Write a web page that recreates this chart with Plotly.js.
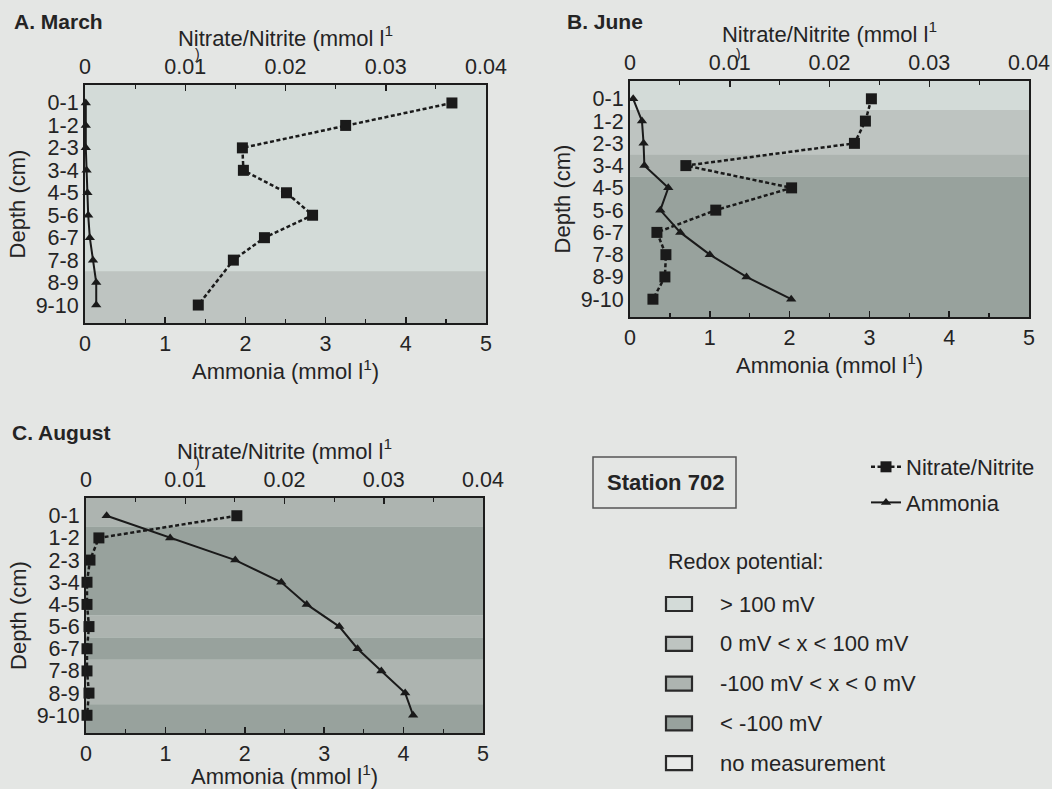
<!DOCTYPE html>
<html>
<head>
<meta charset="utf-8">
<script src="https://cdn.plot.ly/plotly-3.0.1.min.js"></script>
<style>html,body{margin:0;padding:0;background:#e4e6e4;}#chart{width:1052px;height:789px;}</style>
</head>
<body>
<div id="chart"></div>
<script>
// ---------- data ----------
const depths = ['0-1','1-2','2-3','3-4','4-5','5-6','6-7','7-8','8-9','9-10'];

const nitrateMarch  = [0.0366, 0.0260, 0.0157, 0.0158, 0.0201, 0.0227, 0.0179, 0.0148, null, 0.0113];
const ammoniaMarch  = [0.01, 0.01, 0.01, 0.02, 0.03, 0.04, 0.06, 0.10, 0.14, 0.14];

const nitrateJune   = [0.0242, 0.0236, 0.0225, 0.0056, 0.0162, 0.0086, 0.0027, 0.0036, 0.0035, 0.0023];
const ammoniaJune   = [0.04, 0.15, 0.17, 0.18, 0.48, 0.38, 0.63, 1.00, 1.46, 2.02];

const nitrateAugust = [0.0152, 0.0013, 0.0004, 0.0001, 0.0001, 0.0003, 0.0001, 0.0001, 0.0003, 0.0001];
const ammoniaAugust = [0.26, 1.06, 1.88, 2.46, 2.78, 3.19, 3.42, 3.72, 4.02, 4.12];

const redoxClasses = ['> 100 mV', '0 mV < x < 100 mV', '-100 mV < x < 0 mV', '< -100 mV', 'no measurement'];
const redoxMarch  = ['> 100 mV','> 100 mV','> 100 mV','> 100 mV','> 100 mV','> 100 mV','> 100 mV','> 100 mV','0 mV < x < 100 mV','0 mV < x < 100 mV'];
const redoxJune   = ['> 100 mV','0 mV < x < 100 mV','0 mV < x < 100 mV','-100 mV < x < 0 mV','< -100 mV','< -100 mV','< -100 mV','< -100 mV','< -100 mV','< -100 mV'];
const redoxAugust = ['-100 mV < x < 0 mV','< -100 mV','< -100 mV','< -100 mV','< -100 mV','-100 mV < x < 0 mV','< -100 mV','-100 mV < x < 0 mV','-100 mV < x < 0 mV','< -100 mV'];

const panelLabels = ['A. March', 'B. June', 'C. August'];
const stationLabel = 'Station 702';

// ---------- styles ----------
const redoxColors = {
  '> 100 mV': '#d3dbd8',
  '0 mV < x < 100 mV': '#bec4c1',
  '-100 mV < x < 0 mV': '#adb4b0',
  '< -100 mV': '#98a29d',
  'no measurement': '#e8eae8'
};
const W = 1052, H = 789;
const FONT = '"Liberation Sans", Arial, Helvetica, sans-serif';
const INK = '#242424';
const YR = [9.8, -0.8];

// pixel boxes of each plot area [x0, x1, yTop, yBottom]
const boxes = [
  [85, 486, 85, 323],
  [630, 1029, 81, 317],
  [86, 483, 498, 733]
];

const panels = [
  {nitrate: nitrateMarch, ammonia: ammoniaMarch, redox: redoxMarch},
  {nitrate: nitrateJune, ammonia: ammoniaJune, redox: redoxJune},
  {nitrate: nitrateAugust, ammonia: ammoniaAugust, redox: redoxAugust}
];

const traces = [];
const layout = {
  width: W, height: H,
  margin: {l: 0, r: 0, t: 0, b: 0},
  paper_bgcolor: '#e4e6e4',
  plot_bgcolor: '#d3dbd8',
  font: {family: FONT, color: INK, size: 21},
  showlegend: true,
  legend: {
    x: 866 / W, xanchor: 'left', y: 1 - 446 / H, yanchor: 'top',
    bgcolor: 'rgba(0,0,0,0)', font: {size: 22, color: INK},
    traceorder: 'grouped', tracegroupgap: 4, itemwidth: 30
  },
  shapes: [],
  annotations: []
};

function axKey(prefix, n) { return prefix + 'axis' + (n === 1 ? '' : n); }
function axId(prefix, n) { return prefix + (n === 1 ? '' : n); }

panels.forEach((p, k) => {
  const b = boxes[k];
  const xa = 2 * k + 1, xn = 2 * k + 2, yy = k + 1;
  const xDom = [b[0] / W, b[1] / W];
  const yDom = [1 - b[3] / H, 1 - b[2] / H];
  const axLine = {showline: true, linecolor: '#1c1c1c', linewidth: 2, showgrid: false, zeroline: false};

  layout[axKey('x', xa)] = Object.assign({}, axLine, {
    domain: xDom, anchor: axId('y', yy), range: [0, 5], dtick: 1, tick0: 0,
    ticks: 'inside', ticklen: 6, tickwidth: 1.5, tickcolor: '#1c1c1c',
    minor: {dtick: 0.5, ticks: 'inside', ticklen: 4, tickwidth: 1.2, tickcolor: '#1c1c1c'},
    tickfont: {size: 21.5},
    title: {text: 'Ammonia (mmol l<sup>1</sup>)', font: {size: 22}, standoff: 6}
  });
  layout[axKey('x', xn)] = Object.assign({}, axLine, {
    overlaying: axId('x', xa), side: 'top', anchor: axId('y', yy),
    range: [0, 0.04], dtick: 0.01, tick0: 0,
    ticks: 'inside', ticklen: 6, tickwidth: 1.5, tickcolor: '#1c1c1c',
    minor: {dtick: 0.005, ticks: 'inside', ticklen: 4, tickwidth: 1.2, tickcolor: '#1c1c1c'},
    tickfont: {size: 21.5},
    title: {text: 'Nitrate/Nitrite (mmol l<sup>1</sup>', font: {size: 22}, standoff: 3}
  });
  layout[axKey('y', yy)] = Object.assign({}, axLine, {
    domain: yDom, anchor: axId('x', xa), type: 'category', categoryarray: depths,
    categoryorder: 'array', range: YR, autorange: false, mirror: true, ticks: '',
    tickmode: 'array', tickvals: depths, ticktext: depths,
    tickfont: {size: 21.5},
    title: {text: 'Depth (cm)', font: {size: 22}, standoff: 4}
  });

  // redox background bands (runs of equal class)
  let start = 0;
  for (let i = 1; i <= depths.length; i++) {
    if (i === depths.length || p.redox[i] !== p.redox[start]) {
      const y0 = start === 0 ? YR[1] : start - 0.5;
      const y1 = i === depths.length ? YR[0] : i - 0.5;
      layout.shapes.push({
        type: 'rect', layer: 'below', xref: axId('x', xa) + ' domain', yref: axId('y', yy),
        x0: 0, x1: 1, y0: y0, y1: y1, line: {width: 0},
        fillcolor: redoxColors[p.redox[start]]
      });
      start = i;
    }
  }

  traces.push({
    x: p.ammonia, y: depths, xaxis: axId('x', xa), yaxis: axId('y', yy),
    type: 'scatter', mode: 'lines+markers', name: 'Ammonia',
    line: {color: '#1a1a1a', width: 2},
    marker: {symbol: 'triangle-up', size: 9, color: '#1a1a1a'},
    showlegend: k === 0, legendgroup: 'amm', cliponaxis: false
  });
  traces.push({
    x: p.nitrate, y: depths, xaxis: axId('x', xn), yaxis: axId('y', yy),
    type: 'scatter', mode: 'lines+markers', name: 'Nitrate/Nitrite', connectgaps: true,
    line: {color: '#1a1a1a', width: 2.5, dash: '4px,2.5px'},
    marker: {symbol: 'square', size: 11, color: '#1a1a1a'},
    showlegend: k === 0, legendgroup: 'nit', cliponaxis: false
  });

  // panel label
  const labelPos = [[12, 21], [565, 21], [10, 433]][k];
  layout.annotations.push({
    xref: 'paper', yref: 'paper', x: labelPos[0] / W, y: 1 - labelPos[1] / H,
    xanchor: 'left', yanchor: 'middle', showarrow: false,
    text: '<b>' + panelLabels[k] + '</b>', font: {size: 21, color: INK}
  });
  // stray ")" continuing the top axis title (as in the source figure)
  const parPos = [[197, 54], [738, 54], [197, 462]][k];
  layout.annotations.push({
    xref: 'paper', yref: 'paper', x: parPos[0] / W, y: 1 - parPos[1] / H,
    xanchor: 'center', yanchor: 'middle', showarrow: false,
    text: ')', font: {size: 14, color: INK}
  });
});

// nitrate legend first
traces.sort((a, b) => (a.name === 'Nitrate/Nitrite' ? -1 : 0) - (b.name === 'Nitrate/Nitrite' ? -1 : 0));

// Station box
layout.shapes.push({type: 'rect', xref: 'paper', yref: 'paper',
  x0: 593 / W, x1: 736 / W, y0: 1 - 508 / H, y1: 1 - 457 / H,
  line: {color: '#555', width: 1.5}, fillcolor: 'rgba(0,0,0,0)'});
layout.annotations.push({xref: 'paper', yref: 'paper', x: 665 / W, y: 1 - 482 / H,
  xanchor: 'center', yanchor: 'middle', showarrow: false,
  text: '<b>' + stationLabel + '</b>', font: {size: 22, color: INK}});

// Redox key
layout.annotations.push({xref: 'paper', yref: 'paper', x: 666 / W, y: 1 - 562 / H,
  xanchor: 'left', yanchor: 'middle', showarrow: false,
  text: 'Redox potential:', font: {size: 21.5, color: INK}});
redoxClasses.forEach((c, i) => {
  const yc = 604 + i * 39.8;
  layout.shapes.push({type: 'rect', xref: 'paper', yref: 'paper',
    x0: 666 / W, x1: 692 / W, y0: 1 - (yc + 7) / H, y1: 1 - (yc - 7) / H,
    line: {color: '#2a2a2a', width: 2.2}, fillcolor: redoxColors[c]});
  layout.annotations.push({xref: 'paper', yref: 'paper', x: 718 / W, y: 1 - yc / H,
    xanchor: 'left', yanchor: 'middle', showarrow: false,
    text: c.replace(/</g, '&lt;').replace(/>/g, '&gt;'), font: {size: 22, color: INK}});
});

Plotly.newPlot('chart', traces, layout, {displayModeBar: false, staticPlot: true});
</script>
</body>
</html>
